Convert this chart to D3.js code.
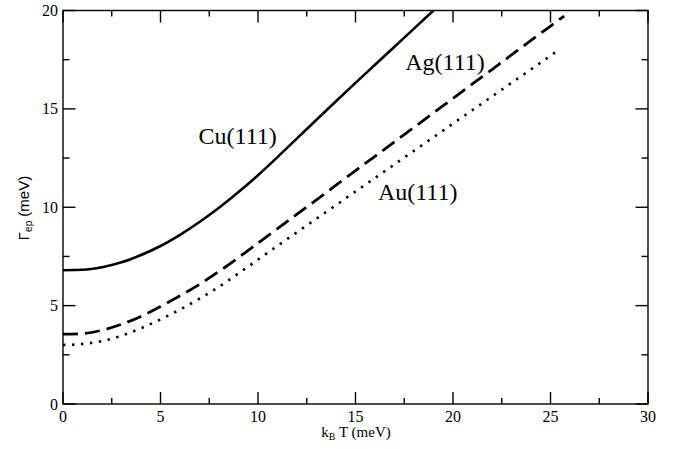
<!DOCTYPE html>
<html><head><meta charset="utf-8">
<script src="https://cdn.jsdelivr.net/npm/d3@7"></script>
<style>body{margin:0;background:#fff}svg{display:block}</style>
</head><body>
<svg id="c" width="674" height="449"></svg>
<script>
const cuX = [0,1,2,3,4,5,6,7,8,9,10,11,12,13,14,15,16,17,18,19];
const cuY = [6.8,6.82,6.95,7.2,7.57,8.03,8.6,9.25,9.97,10.77,11.63,12.55,13.5,14.45,15.39,16.32,17.24,18.16,19.08,20.0];
const agX = [0,1,2,3,4,5,6,7,8,9,10,11,12,13,14,15,16,17,18,19,20,21,22,23,24,25,25.7];
const agY = [3.55,3.58,3.75,4.05,4.45,4.95,5.5,6.08,6.74,7.44,8.18,8.91,9.65,10.38,11.12,11.86,12.59,13.33,14.06,14.8,15.53,16.27,17.0,17.74,18.48,19.21,19.72];
const auX = [0,1,2,3,4,5,6,7,8,9,10,11,12,13,14,15,16,17,18,19,20,21,22,23,24,25,25.5];
const auY = [3.0,3.05,3.2,3.47,3.85,4.3,4.8,5.35,5.96,6.64,7.34,8.04,8.73,9.42,10.11,10.8,11.49,12.18,12.87,13.56,14.25,14.94,15.63,16.32,17.01,17.7,18.05];
const xTicks = [0,5,10,15,20,25,30];
const yTicks = [0,5,10,15,20];
const xMinor = [2.5,7.5,12.5,17.5,22.5,27.5];
const yMinor = [2.5,7.5,12.5,17.5];
const labels = [{t:"Cu(111)",x:6.95,y:13.2},{t:"Ag(111)",x:17.55,y:17.0},{t:"Au(111)",x:16.15,y:10.35}];

const svg = d3.select("#c");
const L=63, R=648, T=10.5, B=404;
const x = d3.scaleLinear().domain([0,30]).range([L,R]);
const y = d3.scaleLinear().domain([0,20]).range([B,T]);
const serif = "'Liberation Serif','Times New Roman',serif";
const sans = "'Liberation Sans',Arial,sans-serif";

svg.append("defs").append("clipPath").attr("id","clip").append("rect")
  .attr("x",L).attr("y",T).attr("width",R-L).attr("height",B-T);

// ticks
const tk = svg.append("g").attr("stroke","#000").attr("stroke-width",1.4);
xTicks.forEach(v=>{ tk.append("line").attr("x1",x(v)).attr("x2",x(v)).attr("y1",B).attr("y2",B-12);
  tk.append("line").attr("x1",x(v)).attr("x2",x(v)).attr("y1",T).attr("y2",T+12);});
xMinor.forEach(v=>{ tk.append("line").attr("x1",x(v)).attr("x2",x(v)).attr("y1",B).attr("y2",B-6);
  tk.append("line").attr("x1",x(v)).attr("x2",x(v)).attr("y1",T).attr("y2",T+6);});
yTicks.forEach(v=>{ tk.append("line").attr("y1",y(v)).attr("y2",y(v)).attr("x1",L).attr("x2",L+12.5);
  tk.append("line").attr("y1",y(v)).attr("y2",y(v)).attr("x1",R).attr("x2",R-12.5);});
yMinor.forEach(v=>{ tk.append("line").attr("y1",y(v)).attr("y2",y(v)).attr("x1",L).attr("x2",L+6.5);
  tk.append("line").attr("y1",y(v)).attr("y2",y(v)).attr("x1",R).attr("x2",R-6.5);});
svg.append("rect").attr("x",L).attr("y",T).attr("width",R-L).attr("height",B-T)
  .attr("fill","none").attr("stroke","#000").attr("stroke-width",1.4);

// tick labels
svg.append("g").selectAll("text").data(xTicks).join("text")
  .attr("x",d=>x(d)).attr("y",B+18).attr("text-anchor","middle")
  .attr("font-family",serif).attr("font-size",16).text(d=>d);
svg.append("g").selectAll("text").data(yTicks).join("text")
  .attr("x",L-5).attr("y",d=>y(d)+5.5).attr("text-anchor","end")
  .attr("font-family",serif).attr("font-size",16).text(d=>d);

// axis titles
const xt = svg.append("text").attr("x",356).attr("y",437).attr("text-anchor","middle")
  .attr("font-family",serif).attr("font-size",15);
xt.append("tspan").text("k");
xt.append("tspan").attr("font-size",10).attr("dy",3).text("B");
xt.append("tspan").attr("dy",-3).text(" T (meV)");
const yt = svg.append("text").attr("transform","translate(29,208) rotate(-90)").attr("text-anchor","middle")
  .attr("font-family",sans).attr("font-size",15);
yt.append("tspan").text("Γ");
yt.append("tspan").attr("font-size",10).attr("dy",3).text("ep");
yt.append("tspan").attr("dy",-3).text(" (meV)");

// curves
const line = d3.line().x(d=>x(d[0])).y(d=>y(d[1])).curve(d3.curveMonotoneX);
const g = svg.append("g").attr("clip-path","url(#clip)").attr("fill","none").attr("stroke","#000");
g.append("path").datum(d3.zip(cuX,cuY)).attr("d",line).attr("stroke-width",2.6);
g.append("path").datum(d3.zip(agX,agY)).attr("d",line).attr("stroke-width",2.8).attr("stroke-dasharray","15,7");
g.append("path").datum(d3.zip(auX,auY)).attr("d",line).attr("stroke-width",2.6).attr("stroke-dasharray","2.4,6.6");

svg.append("g").selectAll("text").data(labels).join("text")
  .attr("x",d=>x(d.x)).attr("y",d=>y(d.y)).attr("font-family",serif).attr("font-size",24).text(d=>d.t);
</script>
</body></html>
